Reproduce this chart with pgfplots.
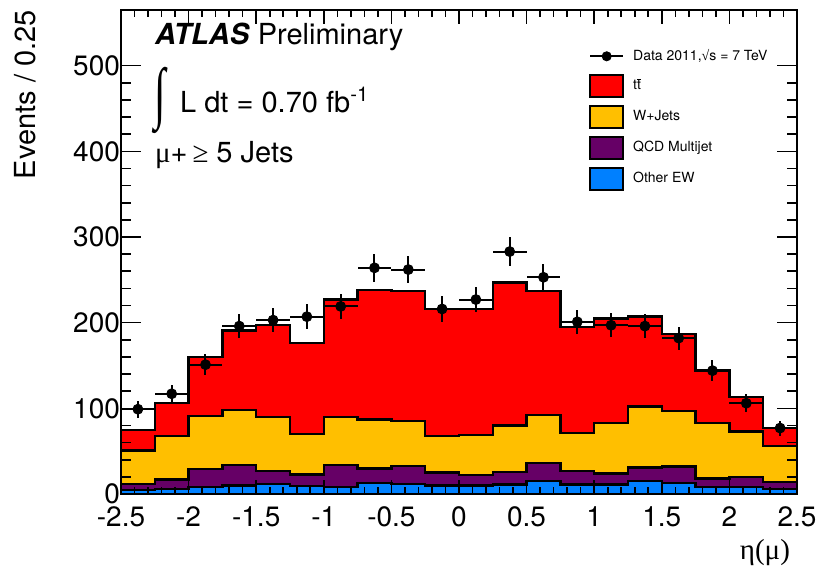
\documentclass[border=0pt]{standalone}
\usepackage{fontspec}
\setmainfont{TeX Gyre Heros}
\newfontfamily\symb{Liberation Serif}
\usepackage{pgfplots}
\pgfplotsset{compat=1.18}
\definecolor{ttred}{RGB}{255,0,0}
\definecolor{wjet}{RGB}{255,191,0}
\definecolor{qcd}{RGB}{102,0,102}
\definecolor{ew}{RGB}{0,128,255}
\newcommand{\tbar}{\ooalign{t\cr\hidewidth\raisebox{0.66em}{\rule{0.3em}{0.06em}}\hidewidth\cr}}

\begin{document}
\begin{tikzpicture}
\begin{axis}[
  scale only axis, width=338pt, height=242pt,
  xmin=-2.5, xmax=2.5, ymin=0, ymax=565,
  xtick={-2.5,-2,-1.5,-1,-0.5,0,0.5,1,1.5,2,2.5},
  ytick={0,100,200,300,400,500},
  minor x tick num=4, minor y tick num=4,
  axis on top,
  axis line style={line width=1pt},
  every tick/.style={black, line width=0.8pt},
  major tick length=10pt, minor tick length=5pt,
  xtick style={/pgfplots/major tick length=7pt, /pgfplots/minor tick length=3.5pt},
  tick label style={font=\fontsize{14}{16}\selectfont},
  /pgf/number format/assume math mode=true,
  xticklabel style={yshift=-3pt},
  yticklabel style={xshift=3pt},
  xlabel={{\symb η(μ)}},
  xlabel style={font=\fontsize{14.5}{17}\selectfont, at={(axis description cs:1,-0.136)}, anchor=base east},
  ylabel={Events / 0.25},
  ylabel style={font=\fontsize{14.5}{17}\selectfont, at={(axis description cs:-0.142,1)}, anchor=east, inner sep=0pt},
  legend style={at={(axis description cs:0.692,0.928)}, anchor=north west, draw=none, fill=none,
    inner sep=0pt, row sep=3.5pt, font=\fontsize{7}{8.5}\selectfont,
    /tikz/every odd column/.append style={column sep=2.5pt}},
  legend cell align=left,
]
% cumulative stack tops, drawn back to front
\addplot[const plot, fill=ttred, draw=black, line width=1.2pt, forget plot] coordinates {
(-2.5,75)(-2.25,106)(-2,160)(-1.75,191)(-1.5,197)(-1.25,176)(-1,227)(-0.75,238)(-0.5,237)(-0.25,216)
(0,216)(0.25,247)(0.5,237)(0.75,195)(1,205)(1.25,207)(1.5,187)(1.75,144)(2,113)(2.25,77)(2.5,77)} \closedcycle;
\addplot[const plot, fill=wjet, draw=black, line width=1.2pt, forget plot] coordinates {
(-2.5,51)(-2.25,68)(-2,91)(-1.75,98)(-1.5,90)(-1.25,70)(-1,90)(-0.75,87)(-0.5,85)(-0.25,68)
(0,69)(0.25,80)(0.5,92)(0.75,71)(1,83)(1.25,102)(1.5,97)(1.75,83)(2,73)(2.25,56)(2.5,56)} \closedcycle;
\addplot[const plot, fill=qcd, draw=black, line width=1.2pt, forget plot] coordinates {
(-2.5,12)(-2.25,17)(-2,29)(-1.75,34)(-1.5,27)(-1.25,23)(-1,34)(-0.75,30)(-0.5,33)(-0.25,25)
(0,22)(0.25,26)(0.5,36)(0.75,27)(1,24)(1.25,31)(1.5,32)(1.75,18)(2,20)(2.25,14)(2.5,14)} \closedcycle;
\addplot[const plot, fill=ew, draw=black, line width=1.2pt, forget plot] coordinates {
(-2.5,5)(-2.25,6)(-2,8)(-1.75,10)(-1.5,12)(-1.25,9)(-1,8)(-0.75,13)(-0.5,12)(-0.25,10)
(0,10)(0.25,11)(0.5,15)(0.75,11)(1,11)(1.25,15)(1.5,13)(1.75,8)(2,8)(2.25,6)(2.5,6)} \closedcycle;
% data
\addplot[only marks, mark=*, mark size=2.5pt, black, forget plot,
  error bars/.cd, x dir=both, x explicit, y dir=both, y explicit,
  error bar style={line width=1pt}, error mark=none] coordinates {
(-2.375,99) +- (0.125,9.95)
(-2.125,117) +- (0.125,10.82)
(-1.875,151) +- (0.125,12.29)
(-1.625,196) +- (0.125,14.0)
(-1.375,203) +- (0.125,14.25)
(-1.125,207) +- (0.125,14.39)
(-0.875,219) +- (0.125,14.8)
(-0.625,264) +- (0.125,16.25)
(-0.375,262) +- (0.125,16.19)
(-0.125,216) +- (0.125,14.7)
(0.125,227) +- (0.125,15.07)
(0.375,283) +- (0.125,16.82)
(0.625,253) +- (0.125,15.91)
(0.875,201) +- (0.125,14.18)
(1.125,197) +- (0.125,14.04)
(1.375,196) +- (0.125,14.0)
(1.625,182) +- (0.125,13.49)
(1.875,144) +- (0.125,12.0)
(2.125,106) +- (0.125,10.3)
(2.375,77) +- (0.125,8.77)
};
% legend
\addlegendimage{legend image code/.code={\path[draw=none, fill=none] (0pt,-5.5pt) rectangle (16.5pt,5.5pt);
  \draw[black, line width=1pt, fill=none] (0pt,0pt) -- (16.5pt,0pt); \fill[black] (8.25pt,0pt) circle (2.3pt);}}
\addlegendentry{Data 2011,{\symb √}s = 7 TeV}
\addlegendimage{legend image code/.code={\draw[black, fill=ttred, line width=0.9pt] (0pt,-5.5pt) rectangle (16.5pt,5.5pt);}}
\addlegendentry{t\tbar}
\addlegendimage{legend image code/.code={\draw[black, fill=wjet, line width=0.9pt] (0pt,-5.5pt) rectangle (16.5pt,5.5pt);}}
\addlegendentry{W+Jets}
\addlegendimage{legend image code/.code={\draw[black, fill=qcd, line width=0.9pt] (0pt,-5.5pt) rectangle (16.5pt,5.5pt);}}
\addlegendentry{QCD Multijet}
\addlegendimage{legend image code/.code={\draw[black, fill=ew, line width=0.9pt] (0pt,-5.5pt) rectangle (16.5pt,5.5pt);}}
\addlegendentry{Other EW}
% labels
\node[anchor=base west, inner sep=0pt, font=\fontsize{14.5}{17}\selectfont] at (axis description cs:0.050,0.928)
  {\textbf{\textit{ATLAS}} Preliminary};
\node[anchor=center, inner sep=0pt] at (axis description cs:0.058,0.814)
  {\scalebox{0.8}[1.3]{\symb\fontsize{26}{26}\selectfont ∫}};
\node[anchor=base west, inner sep=0pt, font=\fontsize{14.5}{17}\selectfont] at (axis description cs:0.087,0.789)
  {L dt = 0.70 fb\textsuperscript{-1}};
\node[anchor=base west, inner sep=0pt, font=\fontsize{14.5}{17}\selectfont] at (axis description cs:0.050,0.684)
  {{\symb μ}+\,{\symb ≥} 5 Jets};
\end{axis}
\pgfresetboundingbox
\path (-60.5pt,-37.5pt) rectangle (350pt,247pt);
\end{tikzpicture}
\end{document}
